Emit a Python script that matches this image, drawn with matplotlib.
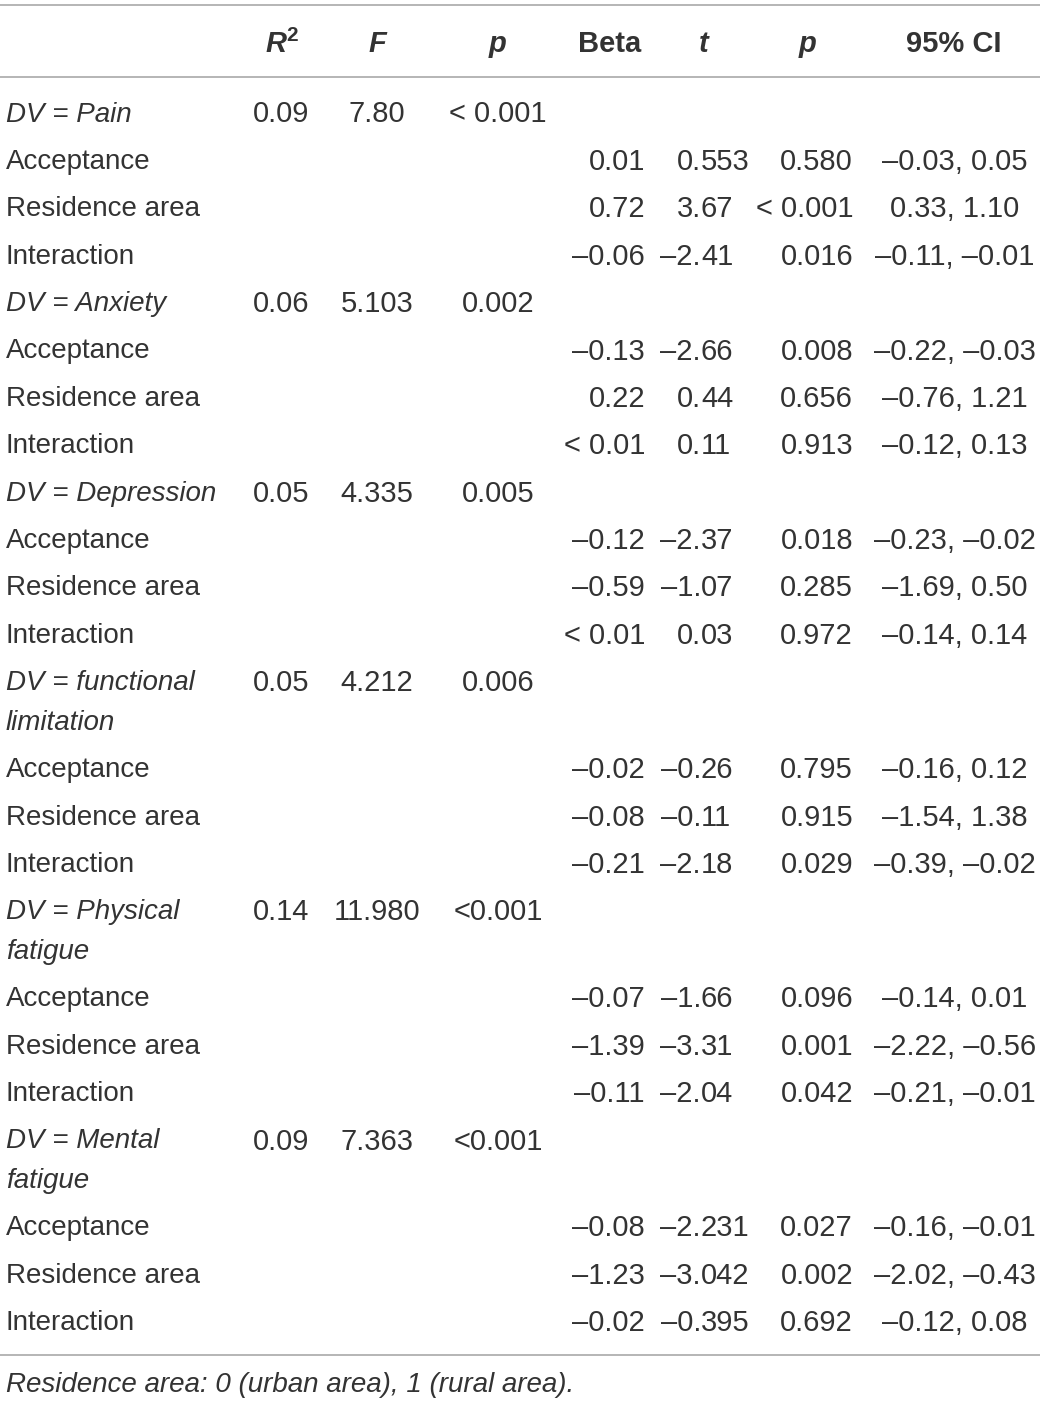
import matplotlib
matplotlib.use('Agg')
import matplotlib.pyplot as plt

# 模型层面的结果
dv_names = ['Pain', 'Anxiety', 'Depression', 'functional\nlimitation',
            'Physical\nfatigue', 'Mental\nfatigue']
r2_vals = ['0.09', '0.06', '0.05', '0.05', '0.14', '0.09']
f_vals = ['7.80', '5.103', '4.335', '4.212', '11.980', '7.363']
p_model = ['< 0.001', '0.002', '0.005', '0.006', '<0.001', '<0.001']

# 预测变量层面的结果
predictors = ['Acceptance', 'Residence area', 'Interaction']
beta_vals = [['0.01', '0.72', '–0.06'],
             ['–0.13', '0.22', '< 0.01'],
             ['–0.12', '–0.59', '< 0.01'],
             ['–0.02', '–0.08', '–0.21'],
             ['–0.07', '–1.39', '–0.11'],
             ['–0.08', '–1.23', '–0.02']]
t_vals = [['0.553', '3.67', '–2.41'],
          ['–2.66', '0.44', '0.11'],
          ['–2.37', '–1.07', '0.03'],
          ['–0.26', '–0.11', '–2.18'],
          ['–1.66', '–3.31', '–2.04'],
          ['–2.231', '–3.042', '–0.395']]
p_vals = [['0.580', '< 0.001', '0.016'],
          ['0.008', '0.656', '0.913'],
          ['0.018', '0.285', '0.972'],
          ['0.795', '0.915', '0.029'],
          ['0.096', '0.001', '0.042'],
          ['0.027', '0.002', '0.692']]
ci_vals = [['–0.03, 0.05', '0.33, 1.10', '–0.11, –0.01'],
           ['–0.22, –0.03', '–0.76, 1.21', '–0.12, 0.13'],
           ['–0.23, –0.02', '–1.69, 0.50', '–0.14, 0.14'],
           ['–0.16, 0.12', '–1.54, 1.38', '–0.39, –0.02'],
           ['–0.14, 0.01', '–2.22, –0.56', '–0.21, –0.01'],
           ['–0.16, –0.01', '–2.02, –0.43', '–0.12, 0.08']]
footnote = 'Residence area: 0 (urban area), 1 (rural area).'

W, H = 1040, 1403
FONT = 'Liberation Sans'
FS = 20      # 文字列
FS_NUM = 21  # 数字列
COLOR = '#333333'
LINE = '#b0b0b0'
DY = 2.5  # 文字垂直微调

fig = plt.figure(figsize=(W / 100, H / 100), dpi=100)
ax = fig.add_axes([0, 0, 1, 1])
ax.set_xlim(0, W)
ax.set_ylim(H, 0)
ax.axis('off')


def txt(x, y, s, ha='left', style='normal', weight='normal', size=FS):
    ax.text(x, y + DY, s, ha=ha, va='center', fontsize=size, family=FONT,
            style=style, weight=weight, color=COLOR)


def num(x, y, s, ha='center'):
    txt(x, y, s, ha=ha, size=FS_NUM)


# 列位置
x_label = 6
x_r2, x_f, x_pm = 281, 377, 498
x_beta, x_t_dec, x_p, x_ci = 645, 701, 853, 955

# 横线
for yl in (5, 77, 1355):
    ax.plot([0, W], [yl, yl], color=LINE, lw=1.3, solid_capstyle='butt')

# 表头
hy = 42
txt(x_r2 - 5, hy, 'R', ha='center', style='italic', weight='bold', size=FS_NUM)
txt(x_r2 + 11, hy - 9, '2', ha='center', weight='bold', size=15)
txt(x_f, hy, 'F', ha='center', style='italic', weight='bold', size=FS_NUM)
txt(x_pm, hy, 'p', ha='center', style='italic', weight='bold', size=FS_NUM)
txt(610, hy, 'Beta', ha='center', weight='bold', size=FS_NUM)
txt(704, hy, 't', ha='center', style='italic', weight='bold', size=FS_NUM)
txt(808, hy, 'p', ha='center', style='italic', weight='bold', size=FS_NUM)
txt(954, hy, '95% CI', ha='center', weight='bold', size=FS_NUM)

row_h = 47.4
wrap_h = 39.5
y = 112
for i, name in enumerate(dv_names):
    lines = name.split('\n')
    txt(x_label, y, 'DV = ' + lines[0], style='italic')
    num(x_r2, y, r2_vals[i])
    num(x_f, y, f_vals[i])
    num(x_pm, y, p_model[i])
    for extra in lines[1:]:
        y += wrap_h
        txt(x_label, y, extra, style='italic')
    for j, pred in enumerate(predictors):
        y += row_h
        txt(x_label, y, pred)
        num(x_beta, y, beta_vals[i][j], ha='right')
        whole, frac = t_vals[i][j].split('.')
        num(x_t_dec, y, whole + '.', ha='right')
        num(x_t_dec, y, frac, ha='left')
        num(x_p, y, p_vals[i][j], ha='right')
        num(x_ci, y, ci_vals[i][j])
    y += row_h

txt(x_label, 1382, footnote, style='italic')

fig.savefig('out.png', dpi=100, facecolor='white')
